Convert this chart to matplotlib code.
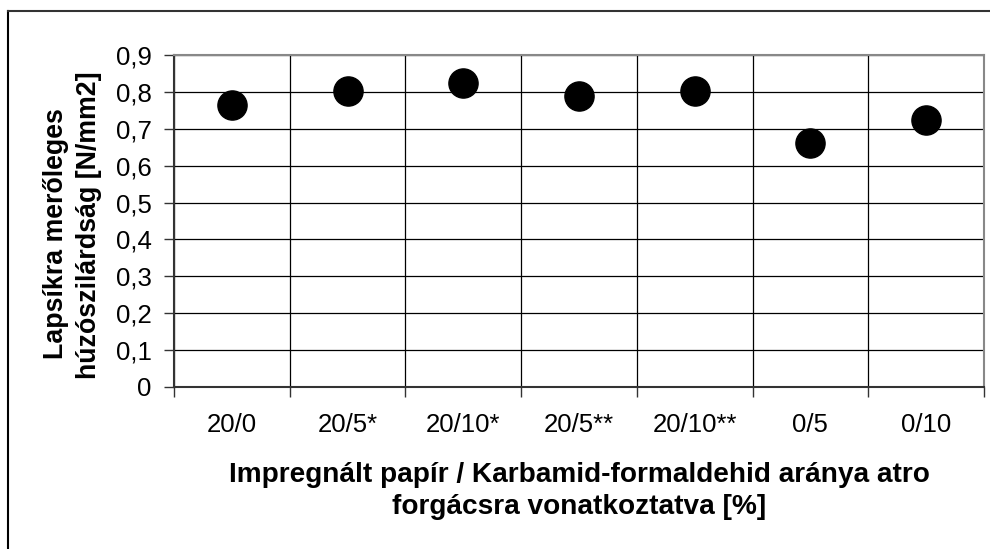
import numpy as np
import matplotlib
matplotlib.use("Agg")
import matplotlib.pyplot as plt
from matplotlib.lines import Line2D

plt.rcParams['font.family'] = ['Liberation Sans', 'DejaVu Sans']

# data
categories = ['20/0', '20/5*', '20/10*', '20/5**', '20/10**', '0/5', '0/10']
values = [0.764, 0.802, 0.824, 0.790, 0.802, 0.661, 0.724]
y_ticks = [0, 0.1, 0.2, 0.3, 0.4, 0.5, 0.6, 0.7, 0.8, 0.9]

fig = plt.figure(figsize=(9.9, 5.49), dpi=100)
ax = fig.add_axes([174 / 990, 1 - 387 / 549, 810 / 990, 332 / 549])

x = np.arange(len(categories))
ax.plot(x, values, 'o', color='black', markersize=21, zorder=3, clip_on=False)

ax.set_xlim(-0.5, len(categories) - 0.5)
ax.set_ylim(0, 0.9)

ax.set_yticks(y_ticks)
ax.set_yticklabels([f'{v:g}'.replace('.', ',') for v in y_ticks], fontsize=18.5)
ax.set_xticks(x)
ax.set_xticklabels(categories, fontsize=18.5)
ax.set_xticks(np.arange(len(categories) + 1) - 0.5, minor=True)

ax.tick_params(axis='x', which='major', length=0, pad=19)
ax.tick_params(axis='x', which='minor', length=7, width=1, direction='out', color='#333333')
ax.tick_params(axis='y', length=7, width=1, direction='out', color='#333333', pad=9)

ax.grid(True, axis='y', which='major', color='black', linewidth=0.9)
ax.grid(True, axis='x', which='minor', color='black', linewidth=0.9)
ax.set_axisbelow(True)

for side in ['top', 'right']:
    ax.spines[side].set_color('#888888')
    ax.spines[side].set_linewidth(1.5)
for side in ['left', 'bottom']:
    ax.spines[side].set_color('#333333')
    ax.spines[side].set_linewidth(1.5)

# axis titles
fig.text(579 / 990, 1 - 482 / 549, 'Impregnált papír / Karbamid-formaldehid aránya atro',
         ha='center', va='baseline', fontsize=20.2, fontweight='bold')
fig.text(579 / 990, 1 - 514 / 549, 'forgácsra vonatkoztatva [%]',
         ha='center', va='baseline', fontsize=20.2, fontweight='bold')
fig.text(56 / 990, 1 - 234 / 549, 'Lapsíkra merőleges',
         ha='center', va='center', rotation=90, fontsize=19.3, fontweight='bold')
fig.text(89 / 990, 1 - 225 / 549, 'húzószilárdság [N/mm2]',
         ha='center', va='center', rotation=90, fontsize=19.3, fontweight='bold')

# outer chart border (left and top visible)
fig.add_artist(Line2D([8 / 990, 8 / 990], [0, 1 - 11 / 549], transform=fig.transFigure,
                      color='black', linewidth=1.5))
fig.add_artist(Line2D([8 / 990, 1], [1 - 11 / 549, 1 - 11 / 549], transform=fig.transFigure,
                      color='#333333', linewidth=1.5))

fig.savefig('out.png', dpi=100)
